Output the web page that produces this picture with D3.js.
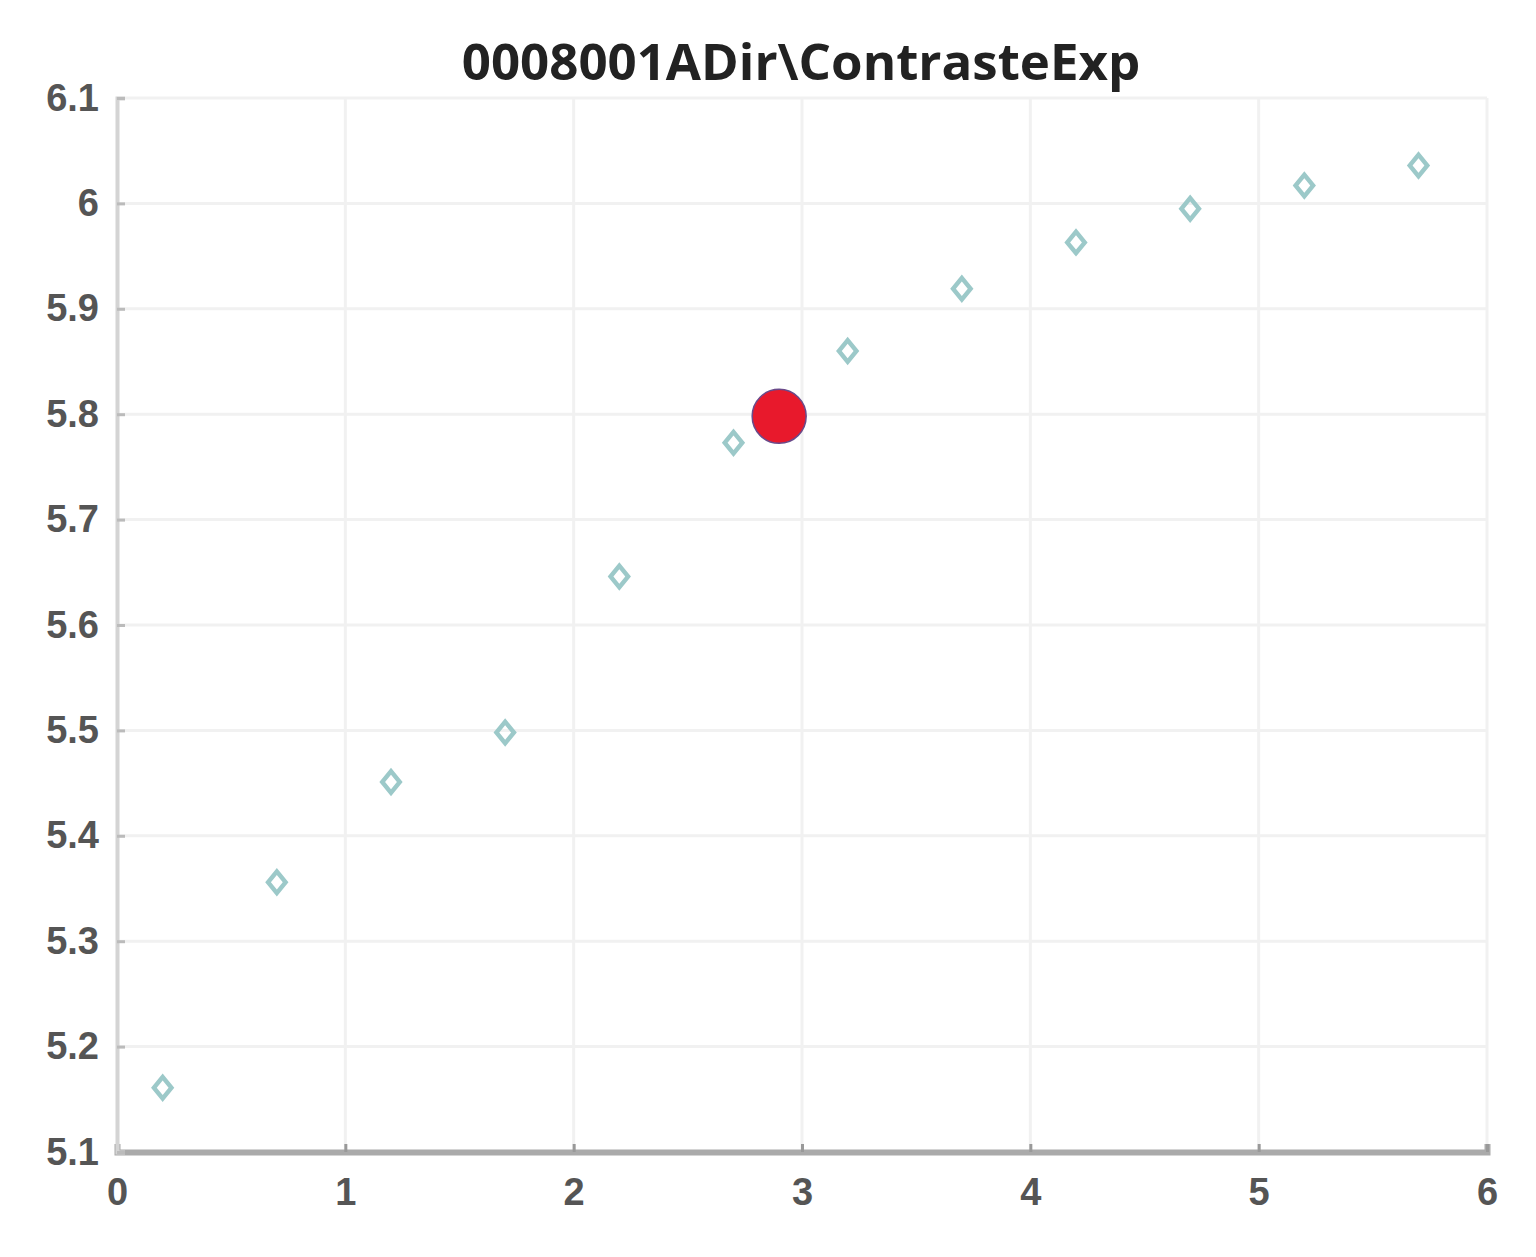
<!DOCTYPE html>
<html lang="en">
  <head>
    <meta charset="UTF-8" />
    <title>0008001ADir\ContrasteExp</title>
    <script src="https://d3js.org/d3.v7.min.js"></script>
    <style>
      body {
        margin: 0;
        background: #fff;
        font-family: "Open Sans", "DejaVu Sans", sans-serif;
      }
      .grid line {
        stroke: #f1f1f1;
        stroke-width: 3px;
      }
      .tick text {
        fill: #555;
        font-weight: bold;
        font-size: 38px;
      }
    </style>
  </head>
  <body>
    <script>
      var titleText = "0008001ADir\\ContrasteExp";

      // measured points (diamonds)
      var xs = [0.2, 0.7, 1.2, 1.7, 2.2, 2.7, 3.2, 3.7, 4.2, 4.7, 5.2, 5.7];
      var ys = [5.161, 5.356, 5.451, 5.498, 5.646, 5.773, 5.860, 5.919, 5.963, 5.995, 6.017, 6.036];

      // highlighted point
      var redX = [2.9];
      var redY = [5.798];

      var xTicks = [0, 1, 2, 3, 4, 5, 6];
      var yTicks = [5.1, 5.2, 5.3, 5.4, 5.5, 5.6, 5.7, 5.8, 5.9, 6, 6.1];

      var width = 1536,
        height = 1257;
      var margin = { top: 98, right: 49, bottom: 105, left: 117 };

      var svg = d3
        .select("body")
        .append("svg")
        .attr("width", width)
        .attr("height", height);

      var x = d3
        .scaleLinear()
        .domain([0, 6])
        .range([margin.left, width - margin.right]);
      var y = d3
        .scaleLinear()
        .domain([5.1, 6.1])
        .range([height - margin.bottom, margin.top]);

      // grid
      var grid = svg.append("g").attr("class", "grid");
      grid
        .selectAll(".gx")
        .data(xTicks.slice(1))
        .enter()
        .append("line")
        .attr("x1", function (d) { return x(d); })
        .attr("x2", function (d) { return x(d); })
        .attr("y1", y(6.1))
        .attr("y2", y(5.1));
      grid
        .selectAll(".gy")
        .data(yTicks.slice(1))
        .enter()
        .append("line")
        .attr("x1", x(0))
        .attr("x2", x(6))
        .attr("y1", function (d) { return y(d); })
        .attr("y2", function (d) { return y(d); });

      // axes
      var xAxis = svg
        .append("g")
        .attr("transform", "translate(0," + y(5.1) + ")")
        .call(
          d3.axisBottom(x).tickValues(xTicks).tickSize(-8).tickPadding(24)
            .tickFormat(d3.format("d"))
        );
      xAxis.select(".domain").attr("stroke", "#aaa").attr("stroke-width", 6);
      xAxis.selectAll(".tick line").attr("stroke", "#999").attr("stroke-width", 3);
      xAxis.selectAll(".tick text").attr("dy", "0.75em");

      var yAxis = svg
        .append("g")
        .attr("transform", "translate(" + x(0) + ",0)")
        .call(
          d3.axisLeft(y).tickValues(yTicks).tickSize(-8).tickPadding(18)
            .tickFormat(function (d) { return d === 6 ? "6" : d3.format(".1f")(d); })
        );
      yAxis.select(".domain").attr("stroke", "#d4d4d4").attr("stroke-width", 4);
      yAxis.selectAll(".tick line").attr("stroke", "#bbb").attr("stroke-width", 3);

      // diamonds
      var diamond = d3.symbol().type(d3.symbolSquare).size(190);
      svg
        .selectAll(".pt")
        .data(xs)
        .enter()
        .append("path")
        .attr("class", "pt")
        .attr("d", diamond)
        .attr("transform", function (d, i) {
          return "translate(" + x(d) + "," + y(ys[i]) + ") scale(0.9,1.1) rotate(45)";
        })
        .attr("fill", "none")
        .attr("stroke", "#9cc9c9")
        .attr("stroke-width", 4.5);

      // red marker
      svg
        .selectAll(".red")
        .data(redX)
        .enter()
        .append("circle")
        .attr("class", "red")
        .attr("cx", function (d) { return x(d); })
        .attr("cy", function (d, i) { return y(redY[i]); })
        .attr("r", 27)
        .attr("fill", "#e8192c")
        .attr("stroke", "#6a4a8a")
        .attr("stroke-width", 1.5);

      svg
        .append("text")
        .attr("x", 801)
        .attr("y", 80)
        .attr("text-anchor", "middle")
        .style("font-family", "Open Sans, DejaVu Sans, sans-serif")
        .style("font-weight", "bold")
        .style("font-size", "51px")
        .style("fill", "#222")
        .text(titleText);
    </script>
  </body>
</html>
